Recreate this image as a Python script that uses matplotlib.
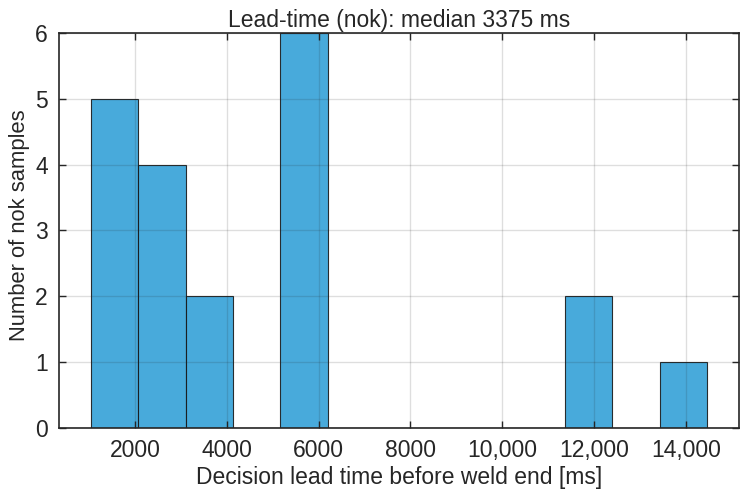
import matplotlib
matplotlib.use("Agg")
import matplotlib.pyplot as plt
import numpy as np
from matplotlib.ticker import FuncFormatter

bin_edges = [1042, 2074, 3106, 4138, 5170, 6202, 7234, 8266, 9298, 10330,
             11362, 12394, 13426, 14458]
counts = [5, 4, 2, 0, 6, 0, 0, 0, 0, 0, 2, 0, 1]
x_ticks = [2000, 4000, 6000, 8000, 10000, 12000, 14000]
y_ticks = [0, 1, 2, 3, 4, 5, 6]
title = "Lead-time (nok): median 3375 ms"
xlabel = "Decision lead time before weld end [ms]"
ylabel = "Number of nok samples"

plt.rcParams['font.family'] = ['Liberation Sans', 'DejaVu Sans']

fig = plt.figure(figsize=(7.49, 4.98), dpi=100)
ax = fig.add_axes([0.0788, 0.1406, 0.9866 - 0.0788, 0.9337 - 0.1406])

ax.hist(bin_edges[:-1], bins=bin_edges, weights=counts,
        facecolor=(26/255, 149/255, 211/255, 0.8),
        edgecolor=(0.1, 0.1, 0.1, 0.9), linewidth=0.8, zorder=2)

ax.set_xlim(348, 15153)
ax.set_ylim(0, 6)
ax.set_xticks(x_ticks)
ax.set_yticks(y_ticks)

def fmt(v, pos):
    v = int(round(v))
    return f"{v:,}" if v >= 10000 else str(v)
ax.xaxis.set_major_formatter(FuncFormatter(fmt))

ax.grid(True, color=(0.15, 0.15, 0.15), alpha=0.15, linewidth=1.0, zorder=3)
ax.set_axisbelow(False)
for s in ax.spines.values():
    s.set_linewidth(1.2)
    s.set_color('#262626')
    s.set_zorder(4)
ax.tick_params(direction='in', length=5, width=1.0, top=True, right=True,
               labelsize=16.5, colors='#262626', pad=8)

ax.set_title(title, fontsize=16.5, color='#262626', pad=4)
ax.set_xlabel(xlabel, fontsize=16.5, color='#262626', labelpad=3)
ax.set_ylabel(ylabel, fontsize=15.8, color='#262626')
ax.yaxis.set_label_coords(-0.043, 0.513)

fig.savefig("out.png", dpi=100)
